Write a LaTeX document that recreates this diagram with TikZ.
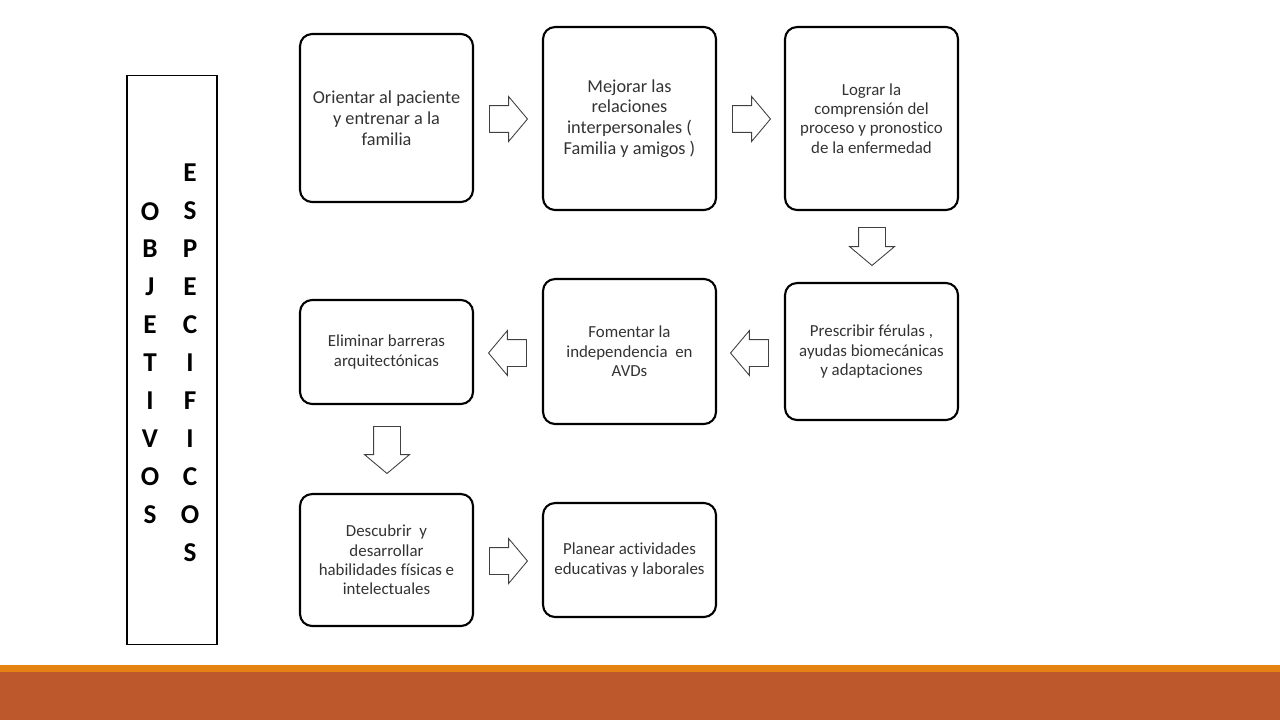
\documentclass[tikz,border=0pt]{standalone}
\usepackage{fontspec}
\setmainfont[Ligatures=NoCommon]{Carlito}
\usetikzlibrary{shapes.arrows,calc}
\definecolor{barorange}{HTML}{E48312}
\definecolor{barbrown}{HTML}{BD582C}
\tikzset{
  meta/.style={draw, line width=1.2pt, rounded corners=0.24cm, minimum width=3.46cm,
    align=center, text=black!80, font=\fontsize{9.6}{11}\selectfont},
  flecha/.style={single arrow, draw=black!75, fill=white, line width=0.5pt, anchor=tail,
    inner xsep=0pt, inner ysep=0.26cm, minimum height=0.76cm,
    single arrow head extend=0.18cm, single arrow tip angle=100},
  letras/.style={align=center, inner sep=0pt, font=\fontsize{15.5}{21.6}\selectfont\bfseries}
}
\begin{document}
\begin{tikzpicture}[x=0.02cm, y=-0.02cm]
        \useasboundingbox (0,0) rectangle (1280,720);
        % barra inferior
        \fill[barorange] (0,665) rectangle (1280,672);
        \fill[barbrown] (0,672) rectangle (1280,720);
        % titulo vertical
        \node[draw, line width=0.6pt, minimum width=1.8cm, minimum height=11.4cm] (marco) at (172,360) {};
        \node[letras] (objetivos) at (150,363) {O\\B\\J\\E\\T\\I\\V\\O\\S};
        \node[letras] (especificos) at (190,363) {E\\S\\P\\E\\C\\I\\F\\I\\C\\O\\S};
        % objetivos
        \node[meta, minimum height=3.36cm, font=\fontsize{10.4}{11.8}\selectfont] (orientar) at (386.5,118) {Orientar al paciente\\y entrenar a la\\familia};
        \node[meta, minimum height=3.66cm, font=\fontsize{10.4}{11.8}\selectfont] (mejorar) at (629.5,118.5) {Mejorar las\\relaciones\\interpersonales (\\Familia y amigos )};
        \node[meta, minimum height=3.66cm] (lograr) at (871.5,118.5) {Lograr la\\comprensión del\\proceso y pronostico\\de la enfermedad};
        \node[meta, minimum height=2.74cm] (prescribir) at (871.5,351.5) {Prescribir férulas ,\\ayudas biomecánicas\\y adaptaciones};
        \node[meta, minimum height=2.9cm] (fomentar) at (629.5,351.5) {Fomentar la\\independencia\ \ en\\AVDs};
        \node[meta, minimum height=2.08cm] (eliminar) at (386.5,352) {Eliminar barreras\\arquitectónicas};
        \node[meta, minimum height=2.64cm] (descubrir) at (386.5,560) {Descubrir\ \ y\\desarrollar\\habilidades físicas e\\intelectuales};
        \node[meta, minimum height=2.28cm] (planear) at (629.5,560) {Planear actividades\\educativas y laborales};
        % flechas
        \node[flecha] (f1) at ($(orientar.east)+(15,1)$) {};
        \node[flecha] (f2) at ($(mejorar.east)+(15,0.5)$) {};
        \node[flecha, rotate=-90] (f3) at ($(lograr.south)+(0.5,16)$) {};
        \node[flecha, rotate=180] (f4) at ($(prescribir.west)+(-15,1.5)$) {};
        \node[flecha, rotate=180] (f5) at ($(fomentar.west)+(-15,1.5)$) {};
        \node[flecha, rotate=-90, minimum height=0.94cm] (f6) at ($(eliminar.south)+(0.5,21)$) {};
        \node[flecha] (f7) at ($(descubrir.east)+(15,1)$) {};
    \end{tikzpicture}
\end{document}
